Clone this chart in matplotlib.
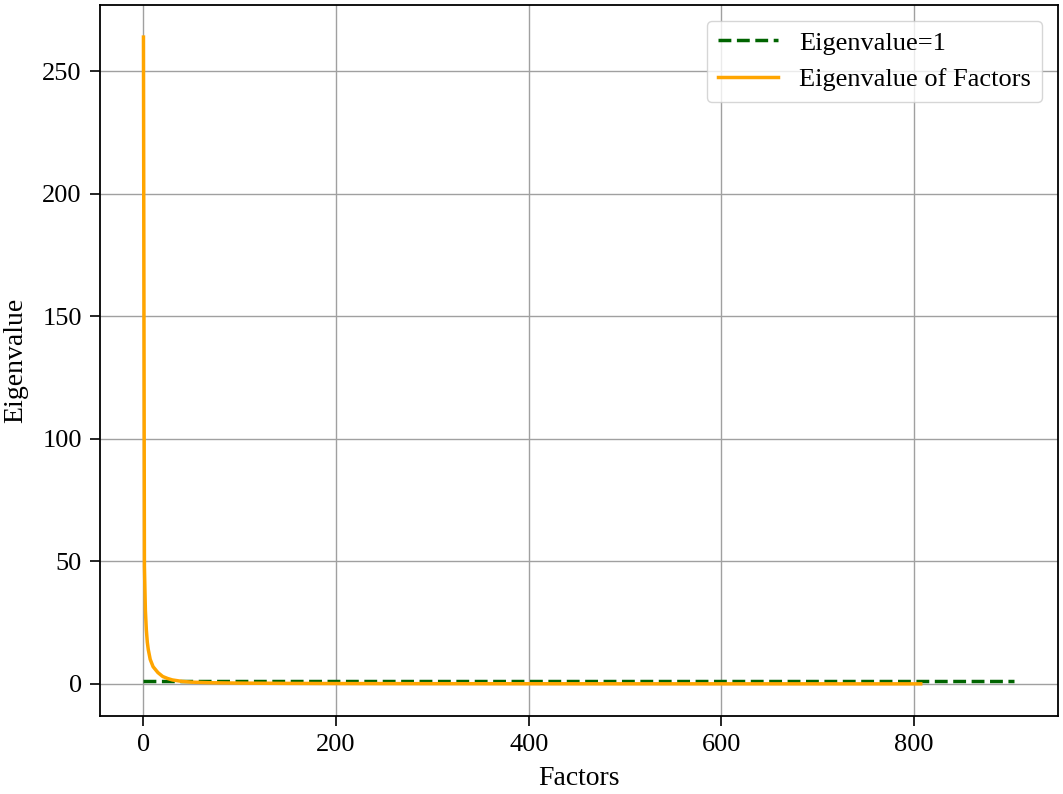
import matplotlib
matplotlib.use("Agg")
import matplotlib.pyplot as plt

plt.rcParams['font.family'] = ['Liberation Serif', 'DejaVu Serif']

# eigenvalues (factor index -> eigenvalue)
factor_idx = [0, 1, 2, 3, 4, 5, 7, 10, 15, 20, 25, 30, 40, 50, 70, 100,
              150, 200, 300, 400, 500, 600, 700, 807]
eigenvalues = [264, 48, 30, 22, 17, 14, 10, 7, 4.6, 3.0, 2.2, 1.6, 1.0, 0.7,
               0.45, 0.3, 0.18, 0.12, 0.07, 0.04, 0.02, 0.01, 0.005, 0.0]
n_ref = 905  # length of the eigenvalue=1 reference line

fig = plt.figure(figsize=(10.63, 7.94), dpi=100)
ax = fig.add_axes([0.094, 0.098, 0.901, 0.896])

ax.plot([0, n_ref - 1], [1, 1], '--', color='darkgreen', lw=2.5, label='Eigenvalue=1')
ax.plot(factor_idx, eigenvalues, '-', color='orange', lw=2.5, label='Eigenvalue of Factors')

ax.grid(True, color='#a0a0a0', lw=1)
ax.set_xticks([0, 200, 400, 600, 800])
ax.set_yticks([0, 50, 100, 150, 200, 250])
ax.tick_params(labelsize=19, width=1.2, length=7, pad=6)
ax.set_xlabel('Factors', fontsize=20, labelpad=7)
ax.set_ylabel('Eigenvalue', fontsize=20, labelpad=10)
for s in ax.spines.values():
    s.set_linewidth(1.3)

ax.legend(loc='upper right', fontsize=19, handlelength=2.3, borderaxespad=0.6)

fig.savefig('out.png', dpi=100)
